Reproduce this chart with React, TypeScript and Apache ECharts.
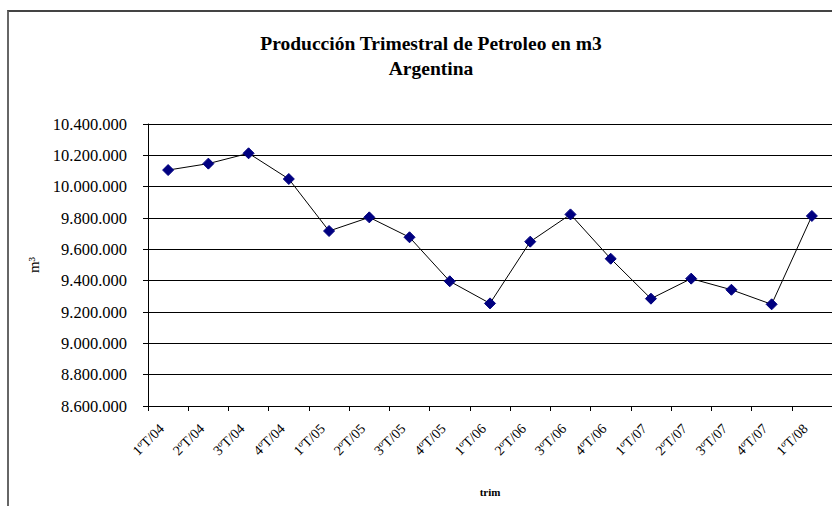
import React, { useEffect, useRef } from "react";
import * as echarts from "echarts";

const categories = [
  "1ºT/04", "2ºT/04", "3ºT/04", "4ºT/04",
  "1ºT/05", "2ºT/05", "3ºT/05", "4ºT/05",
  "1ºT/06", "2ºT/06", "3ºT/06", "4ºT/06",
  "1ºT/07", "2ºT/07", "3ºT/07", "4ºT/07",
  "1ºT/08",
];
const production = [
  10106000, 10147000, 10213000, 10049000,
  9717000, 9804000, 9677000, 9396000,
  9255000, 9649000, 9823000, 9540000,
  9285000, 9413000, 9342000, 9249000,
  9813000,
];
const yMin = 8600000;
const yMax = 10400000;
const yStep = 200000;
const titleLines = ["Producción Trimestral de Petroleo en m3", "Argentina"];

const SERIF = "serif";

function fmt(v: number): string {
  return String(Math.round(v)).replace(/\B(?=(\d{3})+(?!\d))/g, ".");
}

export default function App() {
  const ref = useRef<HTMLDivElement>(null);
  useEffect(() => {
    if (!ref.current) return;
    const chart = echarts.init(ref.current, null, { renderer: "svg" });
    chart.setOption({
      animation: false,
      textStyle: { fontFamily: SERIF },
      title: {
        text: titleLines.join("\n"),
        left: 426,
        top: 26,
        textAlign: "center",
        textStyle: { fontFamily: SERIF, fontWeight: "bold", fontSize: 19.5, color: "#000", lineHeight: 25 },
      },
      grid: { left: 148, top: 124, right: 0, bottom: 100, containLabel: false },
      xAxis: {
        type: "category",
        data: categories,
        boundaryGap: true,
        name: "trim",
        nameLocation: "middle",
        nameGap: 80,
        nameTextStyle: { fontFamily: SERIF, fontWeight: "bold", fontSize: 11, color: "#000" },
        axisLine: { lineStyle: { color: "#000", width: 1 } },
        axisTick: { show: true, length: 5, alignWithLabel: false, lineStyle: { color: "#000" } },
        axisLabel: {
          rotate: 45,
          interval: 0,
          margin: 14,
          fontFamily: SERIF,
          fontSize: 14,
          color: "#000",
          formatter: (v: string) => `{a|${v}}`,
          rich: { a: { fontFamily: SERIF, fontSize: 14, color: "#000", padding: [0, 9, 0, 0] } },
        },
        splitLine: { show: false },
      },
      yAxis: {
        type: "value",
        min: yMin,
        max: yMax,
        interval: yStep,
        name: "m³",
        nameLocation: "middle",
        nameGap: 104,
        nameRotate: 90,
        nameTextStyle: { fontFamily: SERIF, fontSize: 15, color: "#000" },
        axisLine: { show: true, lineStyle: { color: "#000", width: 1 } },
        axisTick: { show: true, length: 5, lineStyle: { color: "#000" } },
        axisLabel: {
          margin: 21,
          fontFamily: SERIF,
          fontSize: 16.5,
          color: "#000",
          formatter: (v: number) => fmt(v),
        },
        splitLine: { show: true, lineStyle: { color: "#000", width: 1 } },
      },
      series: [
        {
          type: "line",
          data: production,
          symbol: "diamond",
          symbolSize: 11,
          itemStyle: { color: "#000080", borderColor: "#000080" },
          lineStyle: { color: "#000", width: 1 },
        },
      ],
    });
    return () => chart.dispose();
  }, []);
  return (
    <div style={{ position: "fixed", left: 0, top: 0, width: 832, height: 506, overflow: "hidden", background: "#fff" }}>
      <div
        style={{
          position: "absolute",
          left: 7,
          top: 10,
          width: 2000,
          height: 2000,
          borderLeft: "2px solid #666",
          borderTop: "2px solid #444",
        }}
      />
      <div ref={ref} style={{ position: "absolute", left: 0, top: 0, width: 832, height: 506 }} />
    </div>
  );
}
